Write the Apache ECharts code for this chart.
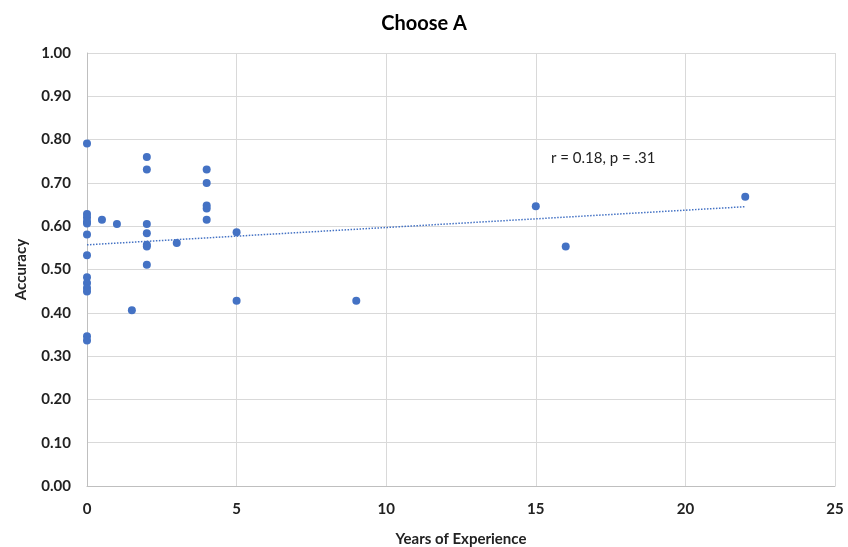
<!DOCTYPE html>
<html>
<head>
<meta charset="utf-8">
<script src="https://cdn.jsdelivr.net/npm/echarts@6/dist/echarts.min.js"></script>
<style>
	html, body { margin: 0; padding: 0; background: #fff; }
	#chart { width: 848px; height: 547px; }
</style>
</head>
<body>
<div id="chart"></div>
<script>
// 数据：工作年限 / 准确率
var years = [0, 0, 0, 0, 0, 0, 0, 0, 0, 0, 0, 0, 0, 0.5, 1, 1.5, 2, 2, 2, 2, 2, 2, 2, 3, 4, 4, 4, 4, 4, 5, 5, 9, 15, 16, 22]
var accuracy = [0.791, 0.628, 0.62, 0.611, 0.606, 0.581, 0.533, 0.482, 0.469, 0.457, 0.449, 0.346, 0.336, 0.615, 0.605, 0.406, 0.76, 0.731, 0.605, 0.584, 0.557, 0.553, 0.511, 0.561, 0.731, 0.7, 0.648, 0.641, 0.615, 0.586, 0.428, 0.428, 0.646, 0.553, 0.668]
// 趋势线端点
var trendX = [0, 22]
var trendY = [0.557, 0.645]

var font = 'Lato, "Open Sans", sans-serif'
var points = years.map(function (x, i) { return [x, accuracy[i]] })
var trend = trendX.map(function (x, i) { return [x, trendY[i]] })

var myChart = echarts.init(document.getElementById('chart'))
myChart.setOption({
	animation: false,
	title: {
		text: 'Choose A',
		left: 'center',
		top: 9,
		textStyle: { fontFamily: font, fontSize: 20, fontWeight: 'bold', color: '#000' }
	},
	grid: { left: 87, right: 13, top: 53, bottom: 61, outerBoundsMode: 'none' },
	xAxis: {
		type: 'value',
		min: 0,
		max: 25,
		interval: 5,
		name: 'Years of Experience',
		nameLocation: 'middle',
		nameGap: 46,
		nameTextStyle: { fontFamily: font, fontSize: 15, fontWeight: 'bold', color: '#222' },
		axisLine: { show: true, lineStyle: { color: '#bfbfbf' } },
		axisTick: { show: false },
		axisLabel: { fontFamily: font, fontSize: 15, fontWeight: 'bold', color: '#222', margin: 16 },
		splitLine: { show: true, lineStyle: { color: '#d9d9d9' } }
	},
	yAxis: {
		type: 'value',
		min: 0,
		max: 1,
		interval: 0.1,
		name: 'Accuracy',
		nameLocation: 'middle',
		nameGap: 58,
		nameTextStyle: { fontFamily: font, fontSize: 15, fontWeight: 'bold', color: '#222' },
		axisLine: { show: true, lineStyle: { color: '#bfbfbf' } },
		axisTick: { show: false },
		axisLabel: {
			fontFamily: font, fontSize: 15, fontWeight: 'bold', color: '#222', margin: 16,
			formatter: function (v) { return v.toFixed(2) }
		},
		splitLine: { show: true, lineStyle: { color: '#d9d9d9' } }
	},
	series: [
		{
			type: 'line',
			data: trend,
			symbol: 'none',
			lineStyle: { color: '#4472c4', width: 1.5, type: [1.5, 1.5] },
			z: 1
		},
		{
			type: 'scatter',
			data: points,
			symbolSize: 8,
			itemStyle: { color: '#4472c4', opacity: 1 },
			z: 2
		}
	],
	graphic: [
		{
			type: 'text',
			left: 551,
			top: 151,
			style: { text: 'r = 0.18, p = .31', fontFamily: font, fontSize: 15, fill: '#222' }
		}
	]
})
</script>
</body>
</html>
